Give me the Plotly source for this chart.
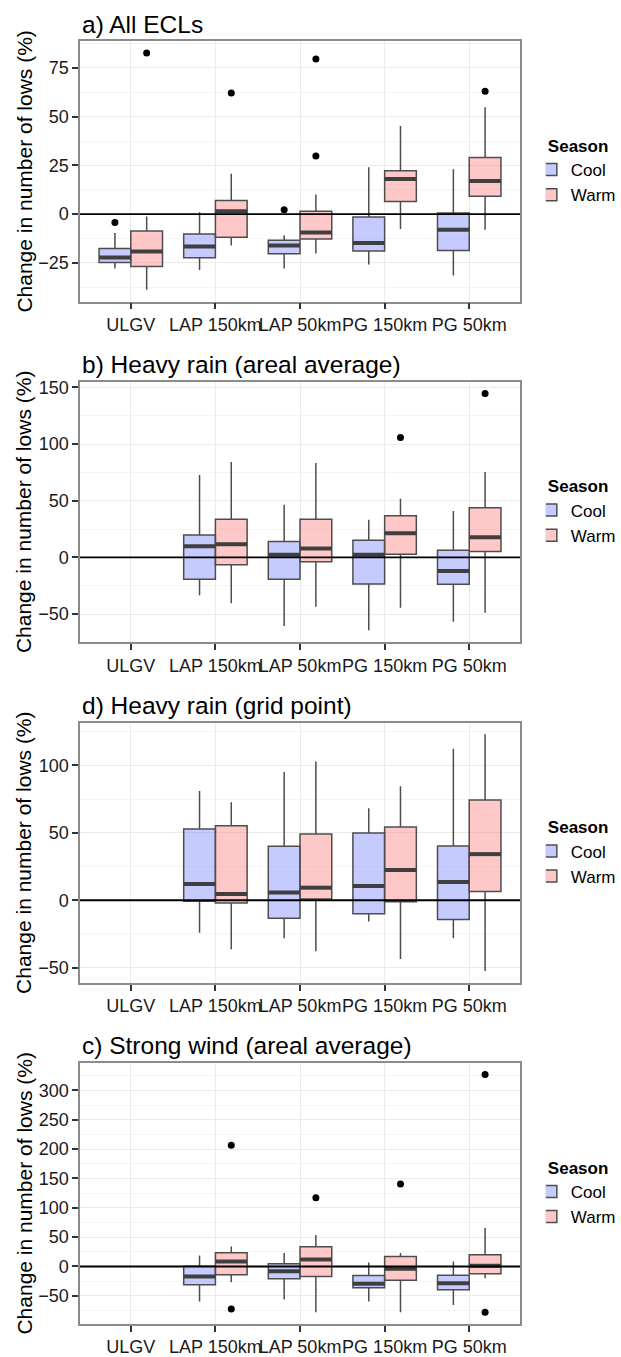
import plotly.graph_objects as go

# ---------------- data ----------------
categories = ["ULGV", "LAP 150km", "LAP 50km", "PG 150km", "PG 50km"]
seasons = ["Cool", "Warm"]
panel_titles = ["a) All ECLs", "b) Heavy rain (areal average)",
                "d) Heavy rain (grid point)", "c) Strong wind (areal average)"]
y_title = "Change in number of lows (%)"

# a) All ECLs
a_cool_low = [-27.9, -28.7, -27.9, -25.9, -31.5]
a_cool_q1 = [-24.8, -22.4, -20.4, -19.0, -18.7]
a_cool_med = [-22.3, -16.7, -16.2, -14.8, -8.0]
a_cool_q3 = [-17.7, -10.2, -13.4, -1.5, 0.5]
a_cool_up = [-9.7, 0.9, -10.9, 24.0, 23.0]
a_cool_out = [[-4.3], [], [2.2], [], []]
a_warm_low = [-38.9, -16.2, -20.2, -7.7, -8.0]
a_warm_q1 = [-26.9, -11.9, -12.8, 6.5, 9.2]
a_warm_med = [-19.2, 1.4, -9.5, 18.0, 17.0]
a_warm_q3 = [-8.7, 7.0, 1.5, 22.3, 29.1]
a_warm_up = [-1.2, 20.7, 10.0, 45.2, 54.9]
a_warm_out = [[82.7], [62.2], [79.6, 29.8], [], [63.1]]

# b) Heavy rain (areal average)
b_cool_low = [None, -33.3, -60.5, -64.3, -56.7]
b_cool_q1 = [None, -19.3, -19.3, -23.4, -23.7]
b_cool_med = [None, 9.9, 2.3, 2.3, -12.0]
b_cool_q3 = [None, 19.9, 14.0, 15.2, 6.4]
b_cool_up = [None, 72.8, 46.5, 33.3, 40.9]
b_cool_out = [[], [], [], [], []]
b_warm_low = [None, -40.4, -43.6, -44.4, -48.8]
b_warm_q1 = [None, -6.4, -3.8, 2.9, 5.3]
b_warm_med = [None, 11.7, 7.9, 21.3, 17.8]
b_warm_q3 = [None, 33.6, 33.6, 36.8, 43.9]
b_warm_up = [None, 84.2, 83.3, 51.8, 75.4]
b_warm_out = [[], [], [], [105.8], [144.7]]

# d) Heavy rain (grid point)
d_cool_low = [None, -24.1, -28.3, -15.7, -28.3]
d_cool_q1 = [None, -0.7, -13.3, -10.1, -14.3]
d_cool_med = [None, 12.0, 5.7, 10.6, 13.5]
d_cool_q3 = [None, 52.8, 40.0, 49.9, 40.3]
d_cool_up = [None, 81.1, 95.1, 68.3, 112.5]
d_cool_out = [[], [], [], [], []]
d_warm_low = [None, -36.4, -37.8, -43.7, -52.6]
d_warm_q1 = [None, -2.0, 1.0, -1.2, 6.4]
d_warm_med = [None, 4.7, 9.3, 22.4, 34.2]
d_warm_q3 = [None, 55.3, 49.1, 54.3, 74.4]
d_warm_up = [None, 72.7, 102.9, 84.5, 123.1]
d_warm_out = [[], [], [], [], []]

# c) Strong wind (areal average)
c_cool_low = [None, -59.8, -56.3, -59.8, -65.5]
c_cool_q1 = [None, -31.3, -21.1, -36.4, -39.8]
c_cool_med = [None, -17.1, -8.0, -29.6, -28.5]
c_cool_q3 = [None, 0.6, 4.6, -15.4, -14.8]
c_cool_up = [None, 18.8, 22.8, 6.8, 8.5]
c_cool_out = [[], [], [], [], []]
c_warm_low = [None, -26.7, -78.0, -78.0, -19.9]
c_warm_q1 = [None, -14.2, -17.1, -23.3, -12.5]
c_warm_med = [None, 8.5, 12.0, -4.0, 1.1]
c_warm_q3 = [None, 23.3, 33.6, 17.1, 19.9]
c_warm_up = [None, 34.1, 53.5, 22.8, 65.5]
c_warm_out = [[], [206.6, -72.3], [117.2], [140.6], [327.3, -78.0]]

panel_dticks = [25, 50, 50, 50]

panels = [
    {"Cool": (a_cool_low, a_cool_q1, a_cool_med, a_cool_q3, a_cool_up, a_cool_out),
     "Warm": (a_warm_low, a_warm_q1, a_warm_med, a_warm_q3, a_warm_up, a_warm_out)},
    {"Cool": (b_cool_low, b_cool_q1, b_cool_med, b_cool_q3, b_cool_up, b_cool_out),
     "Warm": (b_warm_low, b_warm_q1, b_warm_med, b_warm_q3, b_warm_up, b_warm_out)},
    {"Cool": (d_cool_low, d_cool_q1, d_cool_med, d_cool_q3, d_cool_up, d_cool_out),
     "Warm": (d_warm_low, d_warm_q1, d_warm_med, d_warm_q3, d_warm_up, d_warm_out)},
    {"Cool": (c_cool_low, c_cool_q1, c_cool_med, c_cool_q3, c_cool_up, c_cool_out),
     "Warm": (c_warm_low, c_warm_q1, c_warm_med, c_warm_q3, c_warm_up, c_warm_out)},
]

# ---------------- style ----------------
W, H = 621, 1357
FONT = "Liberation Sans, Arial, Helvetica, sans-serif"
fills = {"Cool": "rgba(112,125,255,0.40)", "Warm": "rgba(255,118,118,0.40)"}
dodge = {"Cool": -0.1875, "Warm": 0.1875}
box_w = 0.375
plot_left, plot_right = 82.7, 537.3
panel_px = [(37.3, 299.0), (379.3, 641.0), (721.7, 983.3), (1063.3, 1326.0)]

fig = go.Figure()
annotations = []
shapes = []
layout = {}

for i, (pdata, (top, bot)) in enumerate(zip(panels, panel_px)):
    n = i + 1
    sfx = "" if n == 1 else str(n)
    xa, ya = "x" + sfx, "y" + sfx
    leg = "legend" + sfx
    all_vals = []
    for s in seasons:
        low, q1, med, q3, up, out = pdata[s]
        idx = [k for k in range(len(categories)) if med[k] is not None]
        xs = [k + 1 + dodge[s] for k in idx]
        fig.add_trace(go.Box(
            x=xs, q1=[q1[k] for k in idx], median=[med[k] for k in idx],
            q3=[q3[k] for k in idx], lowerfence=[low[k] for k in idx],
            upperfence=[up[k] for k in idx], width=box_w, whiskerwidth=0,
            boxpoints=False, fillcolor=fills[s],
            line=dict(color="#4d4d4d", width=1.5),
            name=s, legend=leg, xaxis=xa, yaxis=ya, hoverinfo="skip"))
        # thick median bars
        mx, my = [], []
        for k in idx:
            mx += [k + 1 + dodge[s] - box_w / 2, k + 1 + dodge[s] + box_w / 2, None]
            my += [med[k], med[k], None]
        fig.add_trace(go.Scatter(x=mx, y=my, mode="lines",
                                 line=dict(color="#3f3f3f", width=4),
                                 showlegend=False, xaxis=xa, yaxis=ya, hoverinfo="skip"))
        ox, oy = [], []
        for k in range(len(categories)):
            for v in out[k]:
                ox.append(k + 1 + dodge[s])
                oy.append(v)
        if ox:
            fig.add_trace(go.Scatter(x=ox, y=oy, mode="markers",
                                     marker=dict(color="black", size=7),
                                     showlegend=False, xaxis=xa, yaxis=ya, hoverinfo="skip"))
        all_vals += [v for v in low if v is not None] + [v for v in up if v is not None]
        all_vals += [v for o in out for v in o]
    vmin, vmax = min(all_vals), max(all_vals)
    pad = 0.05 * (vmax - vmin)
    yr = [vmin - pad, vmax + pad]
    dom_y = [1 - bot / H, 1 - top / H]
    dt = panel_dticks[i]
    layout["xaxis" + sfx] = dict(
        domain=[plot_left / W, plot_right / W], range=[0.4, 5.6], anchor=ya,
        tickmode="array", tickvals=[1, 2, 3, 4, 5], ticktext=categories, tickangle=0,
        showgrid=True, gridcolor="#ebebeb", gridwidth=1, zeroline=False,
        ticks="outside", ticklen=6, tickwidth=1.5, tickcolor="#333333",
        showline=True, mirror=True, linecolor="#8c8c8c", linewidth=1.5,
        tickfont=dict(size=18, color="#1a1a1a", family=FONT))
    layout["yaxis" + sfx] = dict(
        domain=dom_y, range=yr, anchor=xa, tick0=0, dtick=dt,
        showgrid=True, gridcolor="#ebebeb", gridwidth=1, zeroline=False,
        minor=dict(dtick=dt / 2, tick0=0, showgrid=True, gridcolor="#f5f5f5", gridwidth=1, ticks=""),
        ticks="outside", ticklen=6, tickwidth=1.5, tickcolor="#333333",
        showline=True, mirror=True, linecolor="#8c8c8c", linewidth=1.5,
        tickfont=dict(size=18, color="#1a1a1a", family=FONT))
    layout[leg] = dict(
        x=564 / W, xanchor="left", y=(dom_y[0] + dom_y[1]) / 2, yanchor="middle",
        title=dict(text="<b>Season</b>", font=dict(size=17, family=FONT, color="black")),
        font=dict(size=17, family=FONT, color="black"), indentation=-15,
        tracegroupgap=0, bgcolor="rgba(0,0,0,0)")
    shapes.append(dict(type="line", xref=xa + " domain", x0=0, x1=1, yref=ya, y0=0, y1=0,
                       line=dict(color="black", width=1.8), layer="above"))
    annotations.append(dict(text=panel_titles[i], xref="paper", yref="paper",
                            x=83 / W, y=1 - (top - 17) / H, xanchor="left", yanchor="middle",
                            showarrow=False, font=dict(size=24.5, family=FONT, color="black")))
    annotations.append(dict(text=y_title, xref="paper", yref="paper", textangle=-90,
                            x=25 / W, y=(dom_y[0] + dom_y[1]) / 2, xanchor="center",
                            yanchor="middle", showarrow=False,
                            font=dict(size=21, family=FONT, color="black")))

fig.update_layout(**layout)
fig.update_layout(width=W, height=H, margin=dict(l=0, r=0, t=0, b=0),
                  paper_bgcolor="white", plot_bgcolor="white", boxmode="overlay",
                  annotations=annotations, shapes=shapes, font=dict(family=FONT))
fig.write_html("out.html", config={"displayModeBar": False},
               post_script="document.body.style.margin='0px';document.body.style.overflow='hidden';")
